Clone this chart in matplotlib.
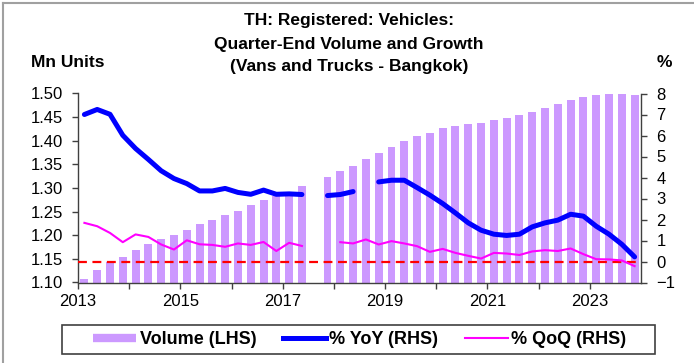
import numpy as np
import matplotlib
matplotlib.use("Agg")
import matplotlib.pyplot as plt
from matplotlib.lines import Line2D
from matplotlib.patches import Rectangle

plt.rcParams['font.family'] = ['Liberation Sans', 'DejaVu Sans']

# Quarterly data, 2013Q1 .. 2023Q4
years = list(range(2013, 2024))
quarters = [f"{y}Q{q}" for y in years for q in range(1, 5)]

volume = [1.108, 1.127, 1.143, 1.153, 1.168, 1.182, 1.192, 1.200,
          1.212, 1.223, 1.232, 1.242, 1.252, 1.263, 1.275, 1.283,
          1.289, 1.305, np.nan, 1.323, 1.336, 1.347, 1.362, 1.374,
          1.387, 1.400, 1.409, 1.417, 1.426, 1.431, 1.436, 1.438,
          1.443, 1.449, 1.455, 1.461, 1.470, 1.478, 1.487, 1.493,
          1.496, 1.498, 1.499, 1.496]

yoy = [7.00, 7.24, 7.01, 6.01, 5.38, 4.86, 4.32, 3.95,
       3.71, 3.36, 3.36, 3.48, 3.29, 3.20, 3.40, 3.20,
       3.22, 3.19, np.nan, 3.14, 3.19, 3.33, np.nan, 3.79,
       3.87, 3.87, 3.52, 3.16, 2.76, 2.31, 1.84, 1.49,
       1.30, 1.24, 1.30, 1.65, 1.84, 1.97, 2.25, 2.16,
       1.68, 1.30, 0.82, 0.22]

qoq = [1.84, 1.68, 1.36, 0.92, 1.29, 1.17, 0.81, 0.57,
       1.01, 0.82, 0.79, 0.70, 0.86, 0.79, 0.93, 0.50,
       0.89, 0.74, np.nan, np.nan, 0.92, 0.86, 1.05, 0.81,
       0.97, 0.86, 0.73, 0.46, 0.60, 0.41, 0.27, 0.14,
       0.41, 0.38, 0.31, 0.48, 0.54, 0.50, 0.62, 0.35,
       0.11, 0.10, 0.05, -0.22]

year_labels = [str(y) for y in years]

W, H = 694, 363
fig = plt.figure(figsize=(W / 100, H / 100), dpi=100)

def fx(px):
    return px / W

def fy(py):
    return 1 - py / H

ax = fig.add_axes([fx(78), fy(282.5), fx(641) - fx(78), fy(93.5) - fy(282.5)])
ax2 = ax.twinx()

x = np.arange(len(quarters))
purple = '#cc99ff'
blue = '#0000ff'
magenta = '#ff00ff'

ax.bar(x, volume, width=0.62, color=purple, zorder=1)
ax.set_ylim(1.10, 1.50)
ax.set_xlim(-0.5, len(quarters) - 0.5)
ax.set_yticks(np.arange(1.10, 1.501, 0.05))
ax.set_yticklabels([f"{v:.2f}" for v in np.arange(1.10, 1.501, 0.05)])

ax2.axhline(0, color='#ff0000', lw=1.6, ls=(0, (4, 2.5)), zorder=2)
ax2.plot(x, qoq, color=magenta, lw=1.5, zorder=3)
ax2.plot(x, yoy, color=blue, lw=3.6, zorder=4, solid_capstyle='round')
ax2.set_ylim(-1, 8)
ax2.set_yticks(range(-1, 9))

# Year boundaries as ticks, labels every second year
tick_pos = [-0.5 + 4 * k for k in range(len(years))]
ax.set_xticks(tick_pos)
ax.set_xticklabels([lab if i % 2 == 0 else '' for i, lab in enumerate(year_labels)])

spine_col = '#404040'
for a in (ax, ax2):
    a.spines['top'].set_visible(False)
    for s in ('left', 'right', 'bottom'):
        a.spines[s].set_color(spine_col)
        a.spines[s].set_linewidth(1.0)
ax.spines['right'].set_visible(False)
ax2.spines['left'].set_visible(False)
ax2.spines['bottom'].set_visible(False)

ax.tick_params(axis='y', direction='out', length=4, width=1, color=spine_col,
               labelsize=12, pad=7)
ax2.tick_params(axis='y', direction='out', length=4, width=1, color=spine_col,
                labelsize=12, pad=7)
ax.tick_params(axis='x', direction='out', length=4, width=1, color=spine_col,
               labelsize=12, pad=4)

# Titles and axis captions
title_lines = ["TH: Registered: Vehicles:",
               "Quarter-End Volume and Growth",
               "(Vans and Trucks - Bangkok)"]
for line, py in zip(title_lines, (21, 44.5, 67)):
    fig.text(fx(349), fy(py), line, ha='center', va='center',
             fontsize=12.5, fontweight='bold')
fig.text(fx(68), fy(62.5), "Mn Units", ha='center', va='center',
         fontsize=12.5, fontweight='bold')
fig.text(fx(664), fy(62.5), "%", ha='center', va='center',
         fontsize=12.5, fontweight='bold')

# Legend
handles = [Line2D([], [], color=purple, lw=6, solid_capstyle='butt'),
           Line2D([], [], color=blue, lw=3.6),
           Line2D([], [], color=magenta, lw=1.5)]
labels = ["Volume (LHS)", "% YoY (RHS)", "% QoQ (RHS)"]
fig.legend(handles, labels, loc='center', bbox_to_anchor=(fx(360), fy(339.5)),
           ncol=3, frameon=False, handlelength=2.35, handletextpad=0.2,
           columnspacing=1.5, prop={'size': 13, 'weight': 'bold'})
fig.patches.append(Rectangle((fx(62), fy(354)), fx(655) - fx(62), fy(325) - fy(354),
                             transform=fig.transFigure, fill=False,
                             edgecolor='#404040', lw=1.2))

# Outer frame (left and top edges)
fig.add_artist(Line2D([fx(3), fx(3)], [fy(3), 0], transform=fig.transFigure,
                      color='#a0a0a0', lw=1.5))
fig.add_artist(Line2D([fx(3), 1], [fy(3), fy(3)], transform=fig.transFigure,
                      color='#a0a0a0', lw=1.5))

fig.savefig("out.png", dpi=100)
